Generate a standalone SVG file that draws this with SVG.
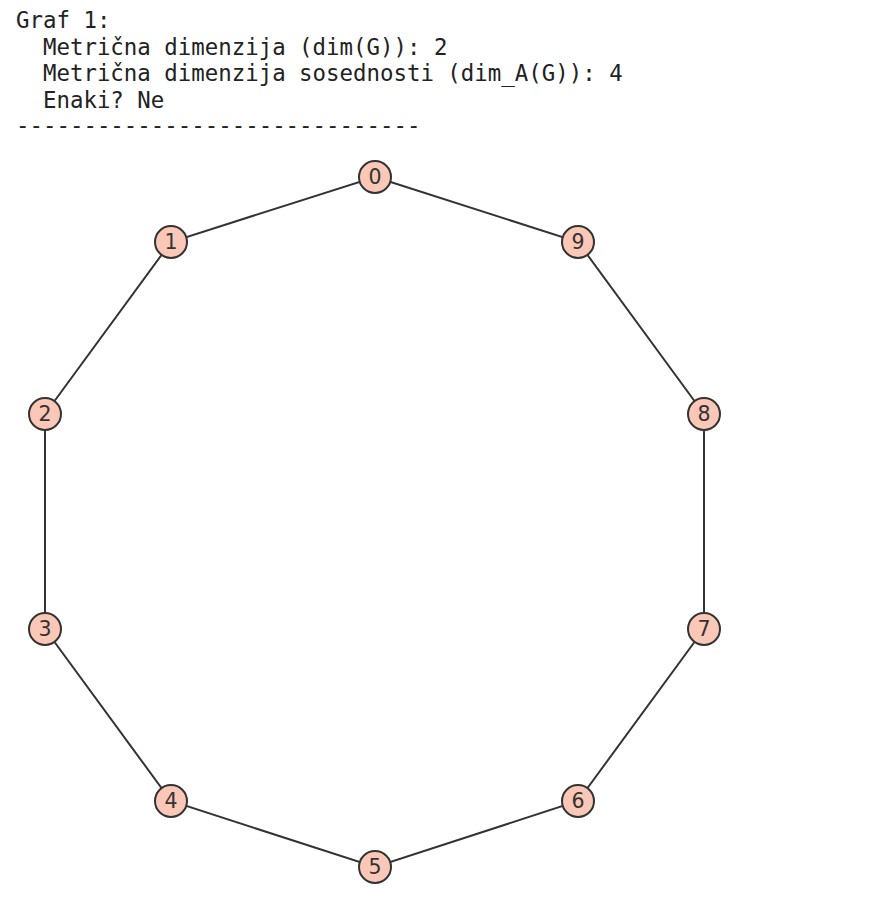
<svg xmlns="http://www.w3.org/2000/svg" width="872" height="902" viewBox="0 0 872 902">
<style>
.t{font-family:"DejaVu Sans Mono","Liberation Mono",monospace;font-size:22.4px;fill:#222;white-space:pre}
.e{stroke:#333;stroke-width:2;fill:none}
.n circle{fill:#fbc7b6;stroke:#333;stroke-width:2}
.n text{font-family:"DejaVu Sans","Liberation Sans",sans-serif;font-size:20.5px;fill:#333;text-anchor:middle;dominant-baseline:central}
</style>
<rect width="872" height="902" fill="#fff"/>
<g id="header">
<text class="t" x="16" y="28" xml:space="preserve">Graf 1:</text>
<text class="t" x="16" y="54.5" xml:space="preserve">  Metrična dimenzija (dim(G)): 2</text>
<text class="t" x="16" y="81" xml:space="preserve">  Metrična dimenzija sosednosti (dim_A(G)): 4</text>
<text class="t" x="16" y="107.5" xml:space="preserve">  Enaki? Ne</text>
<text class="t" x="16" y="133" xml:space="preserve">------------------------------</text>
</g>
<g id="edges">
<polygon class="e" points="375,177 578,242 704,414 704,629 578,801 375,867 171,801 45,629 45,414 171,242"/>
</g>
<g id="n0" class="n"><circle cx="375" cy="177" r="16"/><text x="375" y="177">0</text></g>
<g id="n1" class="n"><circle cx="171" cy="242" r="16"/><text x="171" y="242">1</text></g>
<g id="n2" class="n"><circle cx="45" cy="414" r="16"/><text x="45" y="414">2</text></g>
<g id="n3" class="n"><circle cx="45" cy="629" r="16"/><text x="45" y="629">3</text></g>
<g id="n4" class="n"><circle cx="171" cy="801" r="16"/><text x="171" y="801">4</text></g>
<g id="n5" class="n"><circle cx="375" cy="867" r="16"/><text x="375" y="867">5</text></g>
<g id="n6" class="n"><circle cx="578" cy="801" r="16"/><text x="578" y="801">6</text></g>
<g id="n7" class="n"><circle cx="704" cy="629" r="16"/><text x="704" y="629">7</text></g>
<g id="n8" class="n"><circle cx="704" cy="414" r="16"/><text x="704" y="414">8</text></g>
<g id="n9" class="n"><circle cx="578" cy="242" r="16"/><text x="578" y="242">9</text></g>
</svg>
